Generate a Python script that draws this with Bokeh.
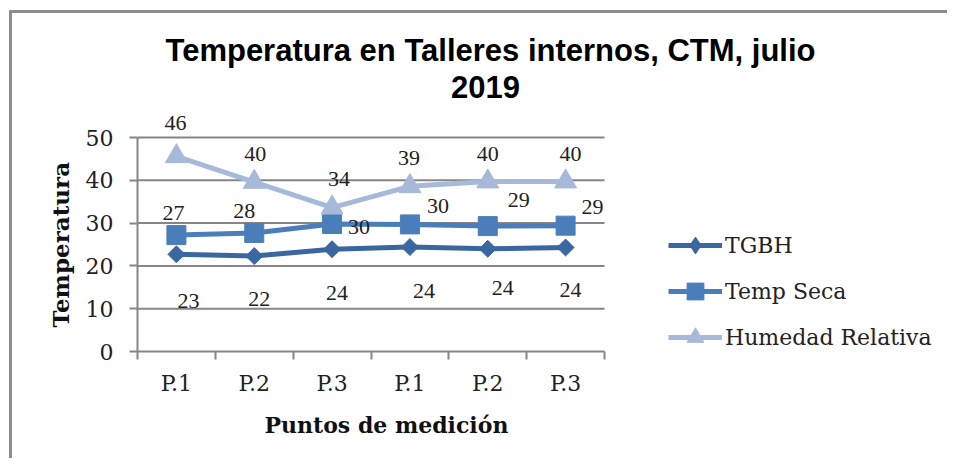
import math
from bokeh.plotting import figure
from bokeh.models import (ColumnDataSource, Legend, LegendItem, LabelSet, Label, Title,
                          FixedTicker, Range1d)
from bokeh.embed import file_html
from bokeh.resources import INLINE

# ---------------- data ----------------
categories = ["P.1", "P.2", "P.3", "P.1", "P.2", "P.3"]
tgbh = [22.7, 22.3, 23.9, 24.4, 24.0, 24.3]
temp_seca = [27.2, 27.7, 29.8, 29.7, 29.3, 29.4]
humedad = [45.6, 39.6, 33.6, 38.6, 39.7, 39.7]
y_ticks = [0, 10, 20, 30, 40, 50]
y_max = 50
series_names = ["TGBH", "Temp Seca", "Humedad Relativa"]
title_lines = ["Temperatura en Talleres internos, CTM, julio", "2019"]
x_title = "Puntos de medición"
y_title = "Temperatura"

# ---------------- style / layout ----------------
COLORS = ["#3B67A0", "#4A7EBB", "#A7B9D9"]
GRAY = "#868686"
SERIF = "DejaVu Serif"
W, H = 938, 448
BORDER_L, BORDER_B = 125, 110
FRAME_W = W - BORDER_L          # frame spans to the right edge
FRAME_H = H - BORDER_B          # frame spans to the top edge
PLOT_W_PX, PLOT_H_PX = 467, 214  # pixel size of the drawn chart area
# data label offsets in pixels (x right, y up), per point
LBL_DX = {"TGBH": [12, 5, 5, 14, 15, 5],
          "Temp Seca": [-3, -10, 27, 28, 31, 27],
          "Humedad Relativa": [-1, 1, 7, -1, 0, 5]}
LBL_DY = {"TGBH": [-47, -43, -44, -44, -39, -43],
          "Temp Seca": [22, 22, -3, 18, 26, 19],
          "Humedad Relativa": [33, 28, 29, 28, 28, 28]}

n = len(categories)
xs = list(range(1, n + 1))
x_lo, x_hi = 0.5, n + 0.5

p = figure(width=W, height=H, output_backend="svg", toolbar_location=None,
           x_range=Range1d(x_lo, x_lo + n * FRAME_W / PLOT_W_PX),
           y_range=Range1d(0, y_max * FRAME_H / PLOT_H_PX),
           min_border_left=BORDER_L, min_border_right=0, min_border_top=0,
           min_border_bottom=BORDER_B)
p.title = None
p.outline_line_color = None
p.background_fill_color = "white"
p.border_fill_color = "white"
p.styles = {"border-left": "3px solid #8c8c8c", "border-top": "3px solid #8c8c8c",
            "margin-left": "9px", "margin-top": "10px"}

# chart title (two centred lines)
for txt, sx, sy in zip(title_lines, [353, 348], [301, 265]):
    p.add_layout(Label(x=sx, y=sy, x_units="screen", y_units="screen", text=txt,
                       text_align="center", text_baseline="middle",
                       text_font="Liberation Sans", text_font_size="31px",
                       text_font_style="bold", text_color="black"))

# axes
xa = p.xaxis[0]
xa.bounds = (x_lo, x_hi)
xa.ticker = FixedTicker(ticks=xs, minor_ticks=[x - 0.5 for x in xs] + [x_hi])
xa.major_label_overrides = {x: c for x, c in zip(xs, categories)}
xa.major_tick_line_color = None
xa.major_tick_out = 8
xa.minor_tick_out = 8
xa.minor_tick_in = 0
xa.minor_tick_line_color = GRAY
xa.minor_tick_line_width = 2
xa.axis_line_color = GRAY
xa.axis_line_width = 2
xa.major_label_text_font = SERIF
xa.major_label_text_font_size = "22px"
xa.major_label_text_color = "#222222"
xa.major_label_standoff = 11

ya = p.yaxis[0]
ya.bounds = (0, y_max)
ya.ticker = FixedTicker(ticks=y_ticks)
ya.major_tick_out = 8
ya.major_tick_in = 0
ya.major_tick_line_color = GRAY
ya.major_tick_line_width = 2
ya.minor_tick_line_color = None
ya.axis_line_color = GRAY
ya.axis_line_width = 2
ya.major_label_text_font = SERIF
ya.major_label_text_font_size = "22px"
ya.major_label_text_color = "#222222"
ya.major_label_standoff = 16

# axis titles as side-panel titles, positioned along the chart area
p.add_layout(Title(text=x_title, align="left", offset=127, standoff=22,
                   text_font=SERIF, text_font_size="22px", text_font_style="bold",
                   text_color="#111111"), "below")
p.add_layout(Title(text=y_title, align="left", offset=24, standoff=18,
                   text_font=SERIF, text_font_size="23px", text_font_style="bold",
                   text_color="#111111"), "left")

p.xgrid.grid_line_color = None
p.ygrid.grid_line_color = None
grid_y = [t for t in y_ticks if t > 0]
p.segment(x0=[x_lo] * len(grid_y), x1=[x_hi] * len(grid_y), y0=grid_y, y1=grid_y,
          line_color=GRAY, line_width=2)

# series
markers = ["square", "square", "triangle"]
legend_markers = ["diamond", "square", "triangle"]
angles = [math.pi / 4, 0, 0]
sizes = [12, 19, 22]
items = []
for name, vals, col, mk, lmk, ang, sz in zip(series_names, [tgbh, temp_seca, humedad],
                                             COLORS, markers, legend_markers,
                                             angles, sizes):
    src = ColumnDataSource(dict(x=xs, y=vals, lbl=[f"{v:.0f}" for v in vals],
                                dx=LBL_DX[name], dy=LBL_DY[name]))
    ln = p.line("x", "y", source=src, line_color=col, line_width=5)
    sc = p.scatter("x", "y", source=src, marker=mk, angle=ang, size=sz,
                   fill_color=col, line_color=col)
    if lmk != mk:
        # legend-only marker shape (a single non-plotted NaN point)
        leg_sc = p.scatter(x=[float("nan")], y=[float("nan")], marker=lmk, size=sz,
                           fill_color=col, line_color=col)
        items.append(LegendItem(label=name, renderers=[ln, leg_sc]))
    else:
        items.append(LegendItem(label=name, renderers=[ln, sc]))
    p.add_layout(LabelSet(x="x", y="y", text="lbl", source=src, x_offset="dx",
                          y_offset="dy", text_align="center", text_baseline="middle",
                          text_font=SERIF, text_font_size="22px",
                          text_color="#222222"))

legend = Legend(items=items, location=(531, -7), padding=0, margin=0, spacing=4,
                glyph_width=54, glyph_height=42, label_height=26, label_standoff=3,
                label_text_font=SERIF, label_text_font_size="22px",
                label_text_color="#222222", border_line_color=None,
                background_fill_alpha=0)
p.add_layout(legend, "center")

open("out.html", "w").write(file_html(p, INLINE))
